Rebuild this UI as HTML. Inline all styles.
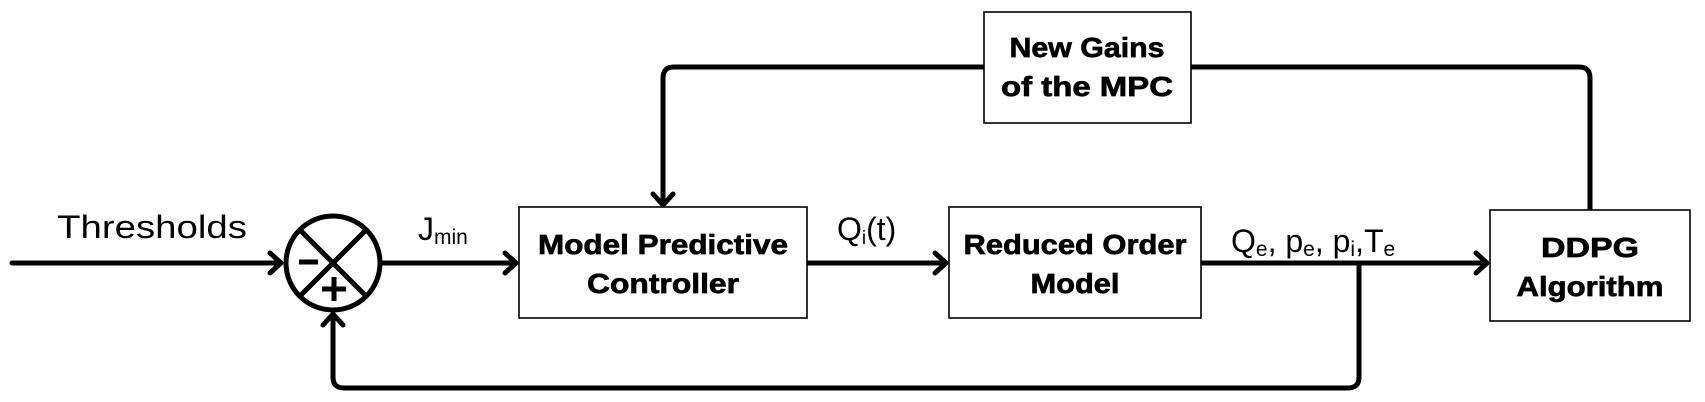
<!DOCTYPE html>
<html><head><style>
body{margin:0;background:#fff;}
svg{display:block;}
.b{font-family:"Liberation Sans",sans-serif;font-weight:bold;font-size:28px;fill:#000;stroke:#000;stroke-width:0.7;}
.n{font-family:"Liberation Sans",sans-serif;font-size:32px;fill:#000;}
</style></head><body>
<svg width="1705" height="402" viewBox="0 0 1705 402" xmlns="http://www.w3.org/2000/svg">
<g fill="none" stroke="#000" stroke-width="5" stroke-linecap="round" stroke-linejoin="round">
<line x1="12" y1="263" x2="280" y2="263"/>
<polyline points="270,253 281,263 270,273"/>
<circle cx="333" cy="263" r="47"/>
<line x1="300" y1="230" x2="366" y2="296"/>
<line x1="366" y1="230" x2="300" y2="296"/>
<line x1="381" y1="263" x2="515" y2="263"/>
<polyline points="505,253 516,263 505,273"/>
<line x1="807" y1="263" x2="945" y2="263"/>
<polyline points="935,253 946,263 935,273"/>
<line x1="1201" y1="263" x2="1486" y2="263"/>
<polyline points="1476,253 1487,263 1476,273"/>
<path d="M1359,263 V377 Q1359,388 1348,388 H344 Q333,388 333,377 V315"/>
<polyline points="323,325 333,314 343,325"/>
<path d="M984,67 H674 Q663,67 663,78 V204"/>
<polyline points="653,194 663,205 673,194"/>
<path d="M1191,67 H1579 Q1590,67 1590,78 V210"/>
</g>
<g stroke="#000" stroke-width="5" stroke-linecap="butt">
<line x1="299" y1="262" x2="318" y2="262"/>
<line x1="322" y1="289" x2="346" y2="289"/>
<line x1="334" y1="277" x2="334" y2="301"/>
</g>
<g fill="#fff" stroke="#000" stroke-width="1.6">
<rect x="519" y="207" width="288" height="111"/>
<rect x="949" y="207" width="252" height="111"/>
<rect x="984" y="12" width="207" height="111"/>
<rect x="1490" y="210" width="200" height="111"/>
</g>
<g lengthAdjust="spacingAndGlyphs">
<text class="b" x="663" y="254" text-anchor="middle" textLength="250" lengthAdjust="spacingAndGlyphs">Model Predictive</text>
<text class="b" x="663" y="293" text-anchor="middle" textLength="152" lengthAdjust="spacingAndGlyphs">Controller</text>
<text class="b" x="1075" y="254" text-anchor="middle" textLength="223" lengthAdjust="spacingAndGlyphs">Reduced Order</text>
<text class="b" x="1075" y="293" text-anchor="middle" textLength="89" lengthAdjust="spacingAndGlyphs">Model</text>
<text class="b" x="1087" y="57" text-anchor="middle" textLength="155" lengthAdjust="spacingAndGlyphs">New Gains</text>
<text class="b" x="1087" y="96" text-anchor="middle" textLength="172" lengthAdjust="spacingAndGlyphs">of the MPC</text>
<text class="b" x="1590" y="257" text-anchor="middle" textLength="98" lengthAdjust="spacingAndGlyphs">DDPG</text>
<text class="b" x="1590" y="296" text-anchor="middle" textLength="147" lengthAdjust="spacingAndGlyphs">Algorithm</text>
<text class="n" x="57" y="238" textLength="190" lengthAdjust="spacingAndGlyphs">Thresholds</text>
</g>
<text class="n" x="418" y="240">J<tspan font-size="21" dy="4">min</tspan></text>
<text class="n" x="837" y="240">Q<tspan font-size="19" dy="4">i</tspan><tspan dy="-4">(t)</tspan></text>
<text class="n" x="1231" y="252">Q<tspan font-size="21" dy="4">e</tspan><tspan dy="-4">, p</tspan><tspan font-size="21" dy="4">e</tspan><tspan dy="-4">, p</tspan><tspan font-size="21" dy="4">i</tspan><tspan dy="-4">,T</tspan><tspan font-size="21" dy="4">e</tspan></text>
</svg>
</body></html>
